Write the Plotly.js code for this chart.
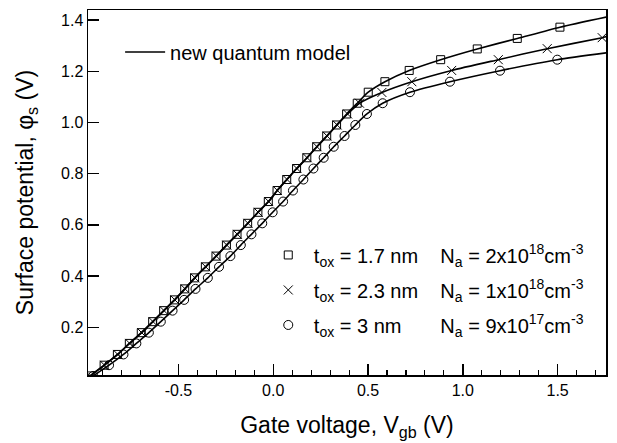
<!DOCTYPE html>
<html>
<head>
<meta charset="utf-8">
<script src="https://cdn.plot.ly/plotly-3.0.1.min.js"></script>
<style>html,body{margin:0;padding:0;background:#fff;}#chart{width:617px;height:443px;}</style>
</head>
<body>
<div id="chart"></div>
<script>
// Gate voltage (V) and surface potential (V)
const sqV   = [-0.967,-0.892,-0.822,-0.759,-0.696,-0.636,-0.578,-0.521,-0.467,-0.415,-0.358,-0.302,-0.247,-0.191,-0.135,-0.081,-0.026,0.020,0.071,0.123,0.177,0.229,0.282,0.334,0.387,0.443,0.501,0.589,0.717,0.883,1.076,1.287,1.512];
const sqPsi = [0.010,0.052,0.094,0.137,0.179,0.222,0.265,0.307,0.350,0.393,0.436,0.478,0.521,0.563,0.606,0.649,0.691,0.734,0.777,0.820,0.862,0.905,0.947,0.990,1.033,1.075,1.118,1.159,1.203,1.245,1.287,1.328,1.372];

const crV   = [-0.965,-0.890,-0.820,-0.757,-0.694,-0.634,-0.576,-0.519,-0.465,-0.413,-0.356,-0.300,-0.245,-0.189,-0.133,-0.079,-0.024,0.022,0.073,0.125,0.179,0.231,0.284,0.337,0.392,0.455,0.573,0.731,0.941,1.187,1.445,1.735];
const crPsi = [0.010,0.052,0.094,0.137,0.179,0.222,0.265,0.307,0.350,0.393,0.436,0.478,0.521,0.563,0.606,0.649,0.691,0.734,0.777,0.820,0.862,0.905,0.947,0.990,1.033,1.075,1.117,1.159,1.203,1.245,1.288,1.331];

const ciV   = [-0.950,-0.866,-0.790,-0.722,-0.656,-0.593,-0.531,-0.470,-0.410,-0.345,-0.286,-0.226,-0.171,-0.115,-0.058,-0.003,0.052,0.104,0.159,0.212,0.266,0.319,0.376,0.433,0.494,0.577,0.721,0.932,1.196,1.498];
const ciPsi = [0.010,0.052,0.094,0.137,0.179,0.222,0.265,0.307,0.350,0.393,0.436,0.478,0.521,0.563,0.606,0.649,0.691,0.734,0.777,0.820,0.862,0.905,0.947,0.990,1.033,1.075,1.118,1.159,1.202,1.245];

// model curves continue to the right edge of the plot
const modelEndV   = [1.76, 1.76, 1.76];
const modelEndPsi = [1.412, 1.336, 1.272];

const seriesNames = [
  '\u00A0t<sub>ox</sub> = 1.7 nm\u00A0\u00A0\u00A0\u00A0N<sub>a</sub> = 2x10<sup>18</sup>cm<sup>-3</sup>',
  '\u00A0t<sub>ox</sub> = 2.3 nm\u00A0\u00A0\u00A0\u00A0N<sub>a</sub> = 1x10<sup>18</sup>cm<sup>-3</sup>',
  '\u00A0t<sub>ox</sub> = 3 nm\u00A0\u00A0\u00A0\u00A0\u00A0\u00A0\u00A0N<sub>a</sub> = 9x10<sup>17</sup>cm<sup>-3</sup>'
];
const modelName = 'new quantum model';
const xTicks = [-0.5, 0.0, 0.5, 1.0, 1.5];
const xTickText = ['-0.5', '0.0', '0.5', '1.0', '1.5'];
const yTicks = [0.2, 0.4, 0.6, 0.8, 1.0, 1.2, 1.4];
const yTickText = ['0.2', '0.4', '0.6', '0.8', '1.0', '1.2', '1.4'];

const FONT = 'Liberation Sans, Arial, Helvetica, sans-serif';
const lineStyle = {color: '#000', width: 1.6, shape: 'spline', smoothing: 0.6};

const traces = [
  {x: sqV.concat([modelEndV[0]]), y: sqPsi.concat([modelEndPsi[0]]), mode: 'lines', line: lineStyle, name: modelName, legend: 'legend', showlegend: true, hoverinfo: 'skip'},
  {x: crV.concat([modelEndV[1]]), y: crPsi.concat([modelEndPsi[1]]), mode: 'lines', line: lineStyle, name: modelName, showlegend: false, hoverinfo: 'skip'},
  {x: ciV.concat([modelEndV[2]]), y: ciPsi.concat([modelEndPsi[2]]), mode: 'lines', line: lineStyle, name: modelName, showlegend: false, hoverinfo: 'skip'},
  {x: sqV, y: sqPsi, mode: 'markers', name: seriesNames[0], legend: 'legend2', legendgroup: 'a',
   marker: {symbol: 'square-open', size: 8, color: '#000', line: {width: 1, color: '#000'}}},
  {x: crV, y: crPsi, mode: 'markers', name: seriesNames[1], legend: 'legend2', legendgroup: 'b',
   marker: {symbol: 'x-thin-open', size: 9, color: '#000', line: {width: 1, color: '#000'}}},
  {x: ciV, y: ciPsi, mode: 'markers', name: seriesNames[2], legend: 'legend2', legendgroup: 'c',
   marker: {symbol: 'circle-open', size: 9, color: '#000', line: {width: 1, color: '#000'}}}
];

const layout = {
  width: 617, height: 443,
  margin: {l: 88, r: 11, t: 10, b: 68},
  paper_bgcolor: '#fff', plot_bgcolor: '#fff',
  font: {family: FONT, size: 16, color: '#000'},
  showlegend: true,
  xaxis: {
    range: [-0.977, 1.755], tickvals: xTicks, ticktext: xTickText,
    ticks: 'inside', ticklen: 11, tickwidth: 1.3, tickcolor: '#000',
    minor: {dtick: 0.1, tick0: 0, ticks: 'inside', ticklen: 5, tickwidth: 1.1, tickcolor: '#000', showgrid: false},
    showline: true, linecolor: '#000', linewidth: 1.5, mirror: true,
    showgrid: false, zeroline: false,
    tickfont: {size: 16},
    title: {text: 'Gate voltage, V<sub>gb</sub> (V)', font: {size: 23}, standoff: 19}
  },
  yaxis: {
    range: [0.0137, 1.439], tickvals: yTicks, ticktext: yTickText,
    ticks: 'inside', ticklen: 11, tickwidth: 1.3, tickcolor: '#000',
    showline: true, linecolor: '#000', linewidth: 1.5, mirror: true,
    showgrid: false, zeroline: false,
    tickfont: {size: 16},
    title: {text: 'Surface potential, \u03c6<sub>s</sub> (V)', font: {size: 23}, standoff: 21}
  },
  legend: {x: 0.062, y: 0.885, xanchor: 'left', yanchor: 'middle', bgcolor: 'rgba(0,0,0,0)',
           font: {size: 20}, borderwidth: 0, itemwidth: 40},
  legend2: {x: 0.348, y: 0.233, xanchor: 'left', yanchor: 'middle', bgcolor: 'rgba(0,0,0,0)',
            font: {size: 20}, borderwidth: 0, tracegroupgap: 6}
};

Plotly.newPlot('chart', traces, layout, {displayModeBar: false, staticPlot: true});
</script>
</body>
</html>
